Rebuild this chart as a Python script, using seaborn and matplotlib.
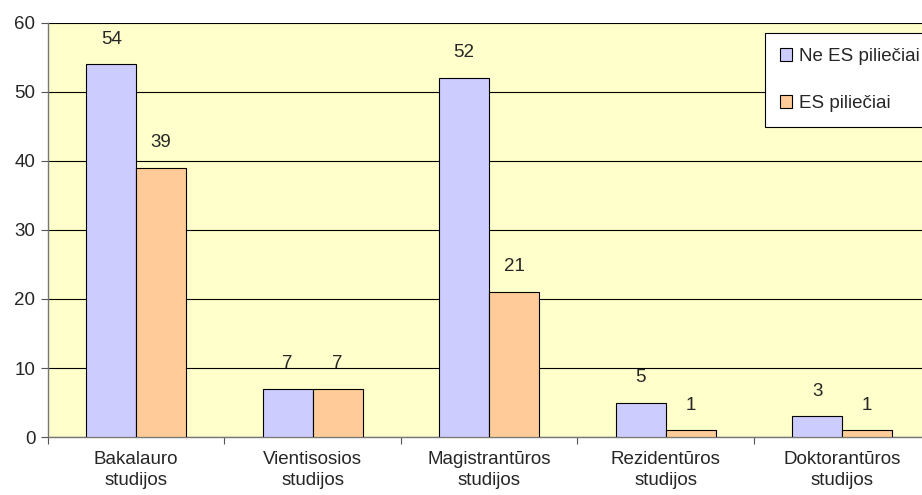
import pandas as pd
import matplotlib.pyplot as plt
import seaborn as sns

categories = ['Bakalauro\nstudijos', 'Vientisosios\nstudijos', 'Magistrantūros\nstudijos',
              'Rezidentūros\nstudijos', 'Doktorantūros\nstudijos']
series = ['Ne ES piliečiai', 'ES piliečiai']
non_eu = [54, 7, 52, 5, 3]
eu = [39, 7, 21, 1, 1]

df = pd.DataFrame({
    'cat': categories * 2,
    'group': [series[0]] * 5 + [series[1]] * 5,
    'value': non_eu + eu,
})

sns.set_style('white')
plt.rcParams['font.family'] = ['Liberation Sans', 'DejaVu Sans']
fs = 13.5

fig = plt.figure(figsize=(9.22, 4.95), dpi=100)
ax = fig.add_axes([0.052, 0.117, 0.957, 0.837])
ax.set_facecolor('#FFFFCC')

sns.barplot(data=df, x='cat', y='value', hue='group', order=categories, hue_order=series,
            palette=['#CCCCFF', '#FFCC99'], width=0.566, edgecolor='black', linewidth=0.8,
            saturation=1, ax=ax, zorder=3)

for cont in ax.containers:
    ax.bar_label(cont, padding=12, fontsize=fs)

ax.set_ylim(0, 60)
ax.set_xlim(-0.5, 4.5)
ax.set_yticks(range(0, 61, 10))
ax.yaxis.grid(True, color='black', linewidth=0.8, zorder=0)
ax.set_axisbelow(True)

ax.set_xticks([i + 0.5 for i in range(-1, 5)])
ax.set_xticklabels([])
ax.set_xticks(range(5), minor=True)
ax.set_xticklabels(categories, minor=True, fontsize=fs, linespacing=1.3)
ax.tick_params(axis='x', which='major', length=5, direction='out', color='#555555', bottom=True)
ax.tick_params(axis='x', which='minor', length=0, pad=10)
ax.tick_params(axis='y', length=5, direction='out', color='#555555', labelsize=fs, left=True, pad=4)
ax.set_xlabel('')
ax.set_ylabel('')

for s in ['top', 'right']:
    ax.spines[s].set_visible(False)
for s in ['left', 'bottom']:
    ax.spines[s].set_color('#777777')
    ax.spines[s].set_linewidth(1)

ax.legend(loc='upper left', bbox_to_anchor=(765 / 922, 1 - 33 / 495), bbox_transform=fig.transFigure,
          frameon=True, fancybox=False, edgecolor='black', framealpha=1, fontsize=fs,
          handlelength=0.65, handleheight=0.65, handletextpad=0.35, labelspacing=1.6,
          borderpad=0.8, borderaxespad=0)
ax.get_legend().get_frame().set_linewidth(0.8)

plt.savefig('out.png', dpi=100)
